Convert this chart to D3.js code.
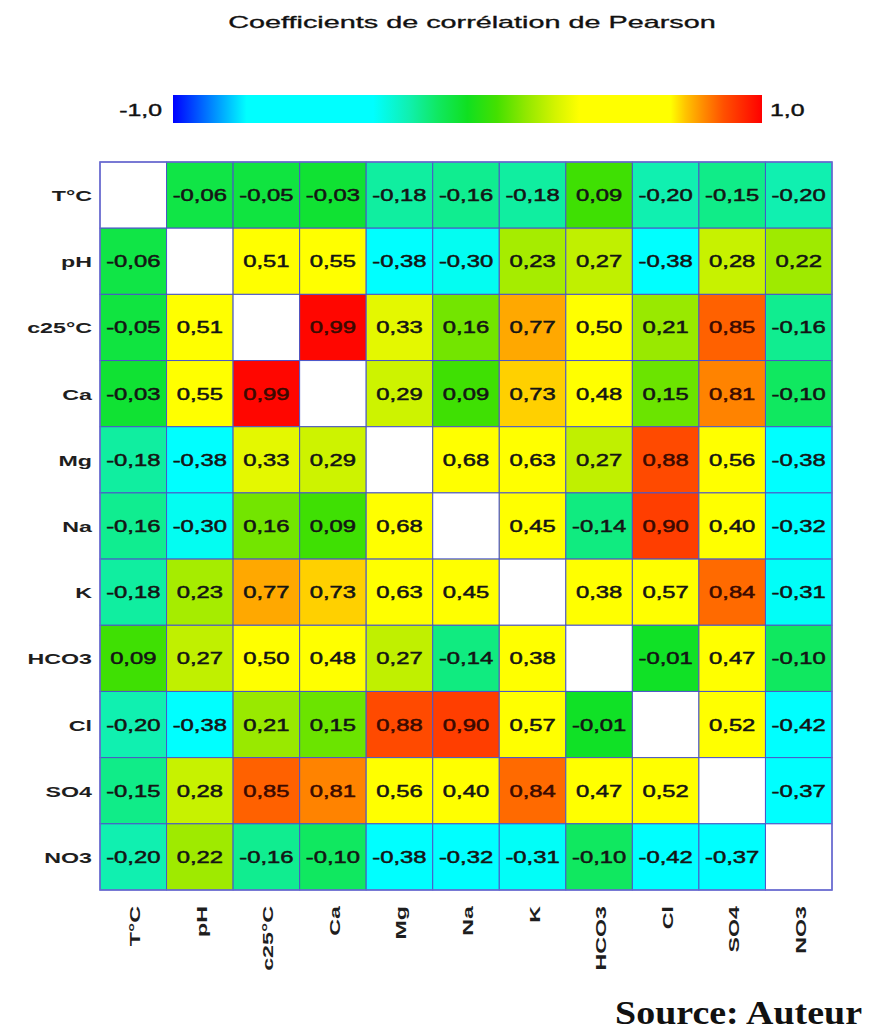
<!DOCTYPE html>
<html>
<head>
<meta charset="utf-8">
<script src="https://cdn.jsdelivr.net/npm/d3@7"></script>
<style>
  body { margin: 0; background: #fff; }
  text { font-family: Arial, "Liberation Sans", sans-serif; }
</style>
</head>
<body>
<div id="vis-svg"></div>
<script>
// chart data
var variables = ["T°C", "pH", "c25°C", "Ca", "Mg", "Na", "K", "HCO3", "Cl", "SO4", "NO3"];

var rowTC   = [null, -0.06, -0.05, -0.03, -0.18, -0.16, -0.18, 0.09, -0.20, -0.15, -0.20];
var rowPH   = [-0.06, null, 0.51, 0.55, -0.38, -0.30, 0.23, 0.27, -0.38, 0.28, 0.22];
var rowC25  = [-0.05, 0.51, null, 0.99, 0.33, 0.16, 0.77, 0.50, 0.21, 0.85, -0.16];
var rowCa   = [-0.03, 0.55, 0.99, null, 0.29, 0.09, 0.73, 0.48, 0.15, 0.81, -0.10];
var rowMg   = [-0.18, -0.38, 0.33, 0.29, null, 0.68, 0.63, 0.27, 0.88, 0.56, -0.38];
var rowNa   = [-0.16, -0.30, 0.16, 0.09, 0.68, null, 0.45, -0.14, 0.90, 0.40, -0.32];
var rowK    = [-0.18, 0.23, 0.77, 0.73, 0.63, 0.45, null, 0.38, 0.57, 0.84, -0.31];
var rowHCO3 = [0.09, 0.27, 0.50, 0.48, 0.27, -0.14, 0.38, null, -0.01, 0.47, -0.10];
var rowCl   = [-0.20, -0.38, 0.21, 0.15, 0.88, 0.90, 0.57, -0.01, null, 0.52, -0.42];
var rowSO4  = [-0.15, 0.28, 0.85, 0.81, 0.56, 0.40, 0.84, 0.47, 0.52, null, -0.37];
var rowNO3  = [-0.20, 0.22, -0.16, -0.10, -0.38, -0.32, -0.31, -0.10, -0.42, -0.37, null];

var matrix = [rowTC, rowPH, rowC25, rowCa, rowMg, rowNa, rowK, rowHCO3, rowCl, rowSO4, rowNO3];

var legendTicks = [-1, 1];
var legendLabels = ["-1,0", "1,0"];

// colour ramp (blue - cyan - green - yellow - red)
var rampDomain = [-1, -0.75, -0.32, -0.2, -0.1, 0, 0.1, 0.2, 0.3, 0.38, 0.69, 0.74, 0.8, 0.87, 1];
var rampColors = ["#0000ff", "#00ffff", "#00ffff", "#10f0b0", "#10e860", "#10e020", "#44e000",
                  "#92e800", "#d4f400", "#ffff00", "#ffff00", "#ffc400", "#ff8c00", "#ff5000", "#ff0000"];

var width = 875;
var height = 1032;

var svg = d3
  .select("#vis-svg")
  .append("svg")
  .attr("width", width)
  .attr("height", height);

var color = d3.scaleLinear().domain(rampDomain).range(rampColors);

var x = d3.scaleBand().domain(variables).range([100, 832]);
var y = d3.scaleBand().domain(variables).range([162, 890]);

function fmt(v) {
  return d3.format(".2f")(v).replace(".", ",").replace("−", "-");
}

// title (glyphs in the reference are wide, hence the x scale)
svg.append("text")
  .attr("transform", "translate(472,28) scale(1.8,1)")
  .attr("text-anchor", "middle")
  .style("font-size", "16px")
  .style("fill", "#111")
  .style("stroke", "#111")
  .style("stroke-width", 0.3)
  .text("Coefficients de corrélation de Pearson");

// colour bar
var legendX = d3.scaleLinear().domain([-1, 1]).range([173, 762]);

var grad = svg.append("defs").append("linearGradient")
  .attr("id", "ramp")
  .attr("x1", "0%").attr("x2", "100%");

grad.selectAll("stop")
  .data(rampDomain)
  .enter()
  .append("stop")
  .attr("offset", function(d) { return ((d + 1) / 2 * 100) + "%"; })
  .attr("stop-color", function(d) { return color(d); });

svg.append("rect")
  .attr("x", legendX(-1))
  .attr("y", 95)
  .attr("width", legendX(1) - legendX(-1))
  .attr("height", 28)
  .attr("fill", "url(#ramp)");

svg.selectAll(".legend-label")
  .data(legendTicks)
  .enter()
  .append("text")
  .attr("class", "legend-label")
  .attr("transform", function(d) {
    var px = d < 0 ? legendX(d) - 11 : legendX(d) + 8;
    return "translate(" + px + ",116) scale(1.55,1)";
  })
  .attr("text-anchor", function(d) { return d < 0 ? "end" : "start"; })
  .style("font-size", "16px")
  .style("fill", "#111")
  .style("stroke", "#111")
  .style("stroke-width", 0.4)
  .text(function(d, i) { return legendLabels[i]; });

// cells
var cells = [];
matrix.forEach(function(row, i) {
  row.forEach(function(v, j) {
    cells.push({ row: variables[i], col: variables[j], value: v });
  });
});

var cellGroup = svg.append("g").attr("class", "cells");

cellGroup.selectAll("rect")
  .data(cells)
  .enter()
  .append("rect")
  .attr("x", function(d) { return x(d.col); })
  .attr("y", function(d) { return y(d.row); })
  .attr("width", x.bandwidth())
  .attr("height", y.bandwidth())
  .attr("fill", function(d) { return d.value === null ? "#fff" : color(d.value); })
  .attr("stroke", "#4a55c8")
  .attr("stroke-width", 1);

cellGroup.selectAll("text")
  .data(cells.filter(function(d) { return d.value !== null; }))
  .enter()
  .append("text")
  .attr("transform", function(d) {
    return "translate(" + (x(d.col) + x.bandwidth() / 2) + "," + (y(d.row) + y.bandwidth() / 2 + 6) + ") scale(1.4,1)";
  })
  .attr("text-anchor", "middle")
  .style("font-size", "17px")
  .style("fill", function(d) { return d.value > 0.8 ? "#3a0a00" : "#141414"; })
  .style("stroke", function(d) { return d.value > 0.8 ? "#3a0a00" : "#141414"; })
  .style("stroke-width", 0.5)
  .text(function(d) { return fmt(d.value); });

// outer border
svg.append("rect")
  .attr("x", 100)
  .attr("y", 162)
  .attr("width", 732)
  .attr("height", 728)
  .attr("fill", "none")
  .attr("stroke", "#6a6ad0")
  .attr("stroke-width", 1.5);

// row labels
svg.selectAll(".row-label")
  .data(variables)
  .enter()
  .append("text")
  .attr("class", "row-label")
  .attr("transform", function(d) {
    return "translate(92," + (y(d) + y.bandwidth() / 2 + 6) + ") scale(1.55,1)";
  })
  .attr("text-anchor", "end")
  .style("font-size", "15px")
  .style("font-weight", "bold")
  .style("fill", "#1e1e1e")
  .text(function(d) { return d; });

// column labels
svg.selectAll(".col-label")
  .data(variables)
  .enter()
  .append("text")
  .attr("class", "col-label")
  .attr("transform", function(d) {
    return "translate(" + (x(d) + x.bandwidth() / 2 + 7) + ",906) rotate(-90) scale(1.55,1)";
  })
  .attr("text-anchor", "end")
  .style("font-size", "15px")
  .style("font-weight", "bold")
  .style("fill", "#1e1e1e")
  .text(function(d) { return d; });

// source
svg.append("text")
  .attr("transform", "translate(862,1024) scale(1.15,1)")
  .attr("text-anchor", "end")
  .style("font-family", "'Times New Roman', 'Liberation Serif', serif")
  .style("font-size", "33px")
  .style("font-weight", "bold")
  .style("fill", "#111")
  .text("Source: Auteur");
</script>
</body>
</html>
